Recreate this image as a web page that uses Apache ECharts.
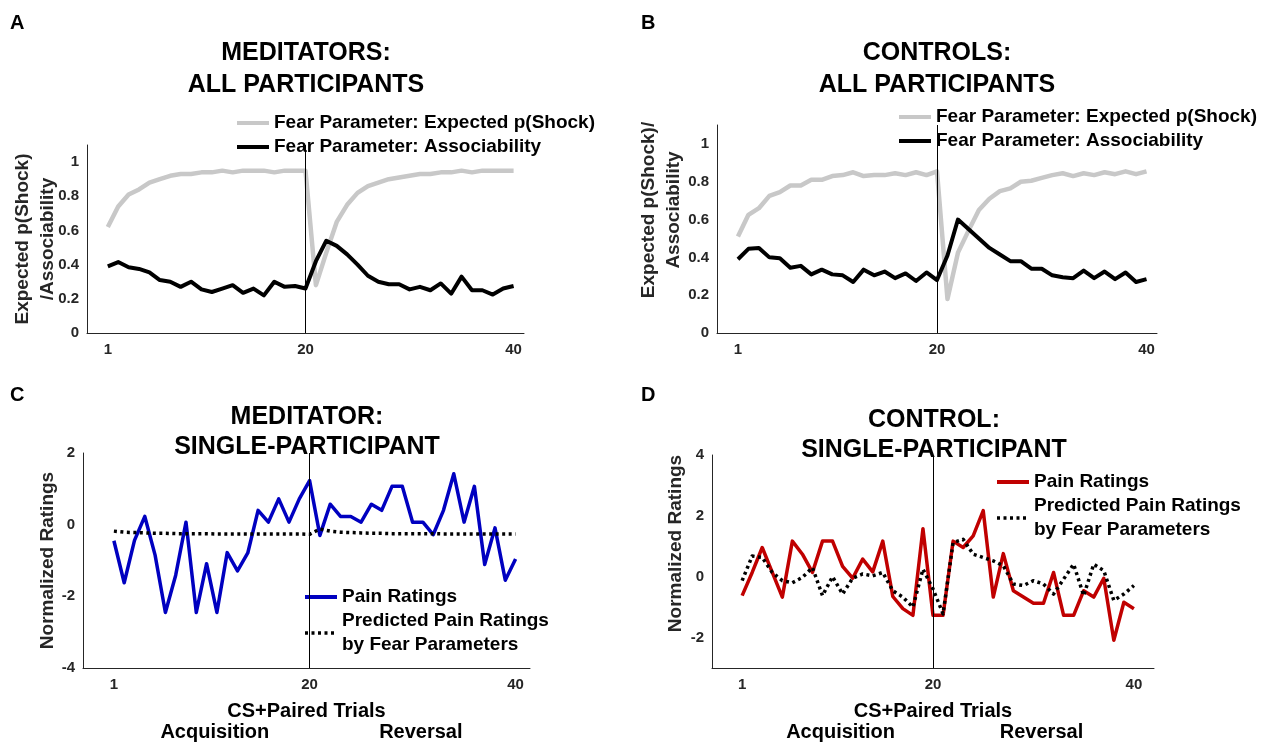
<!DOCTYPE html>
<html>
<head>
<meta charset="utf-8">
<script src="https://cdn.jsdelivr.net/npm/echarts@6/dist/echarts.min.js"></script>
<style>
html, body { margin: 0; padding: 0; background: #fff; }
#box { width: 1275px; height: 742px; }
</style>
</head>
<body>
<div id="box"></div>
<script>
// ---- data ----
const trials = [1,2,3,4,5,6,7,8,9,10,11,12,13,14,15,16,17,18,19,20,
  21,22,23,24,25,26,27,28,29,30,31,32,33,34,35,36,37,38,39,40];
const tickTrials = [1, 20, 40];
const reversalTrial = 20;
const phaseLabels = ['Acquisition', 'Reversal'];
const phaseCenters = [10.8, 30.8];
const probTicks = [0, 0.2, 0.4, 0.6, 0.8, 1];
const medRatingTicks = [-4, -2, 0, 2];
const conRatingTicks = [-2, 0, 2, 4];

// A: meditators, all participants
const medExpected = [0.62,0.74,0.81,0.84,0.88,0.90,0.92,0.93,0.93,0.94,0.94,0.95,0.94,0.95,0.95,0.95,0.94,0.95,0.95,0.95,
  0.28,0.47,0.65,0.75,0.82,0.86,0.88,0.90,0.91,0.92,0.93,0.93,0.94,0.94,0.95,0.94,0.95,0.95,0.95,0.95];
const medAssoc = [0.39,0.415,0.385,0.375,0.355,0.31,0.30,0.27,0.30,0.255,0.24,0.26,0.28,0.235,0.26,0.22,0.30,0.27,0.275,0.26,
  0.42,0.54,0.51,0.46,0.40,0.335,0.30,0.285,0.285,0.255,0.27,0.25,0.29,0.23,0.33,0.25,0.25,0.225,0.26,0.275];
// B: controls, all participants
const conExpected = [0.51,0.625,0.66,0.725,0.745,0.78,0.78,0.81,0.81,0.83,0.835,0.85,0.83,0.835,0.835,0.845,0.835,0.85,0.835,0.855,
  0.18,0.425,0.54,0.65,0.71,0.75,0.765,0.80,0.805,0.82,0.835,0.845,0.83,0.845,0.835,0.85,0.84,0.855,0.84,0.855];
const conAssoc = [0.39,0.445,0.45,0.40,0.395,0.345,0.355,0.31,0.335,0.31,0.305,0.27,0.335,0.305,0.325,0.29,0.315,0.275,0.32,0.28,
  0.41,0.60,0.55,0.50,0.45,0.415,0.38,0.38,0.34,0.34,0.305,0.295,0.29,0.33,0.29,0.325,0.285,0.32,0.27,0.285];
// C: meditator, single participant
const medPain = [-0.45,-1.62,-0.44,0.23,-0.85,-2.45,-1.41,0.07,-2.45,-1.09,-2.45,-0.78,-1.29,-0.79,0.40,0.07,0.72,0.07,0.72,1.23,
  -0.30,0.57,0.23,0.23,0.07,0.57,0.40,1.07,1.07,0.07,0.07,-0.28,0.40,1.42,0.07,1.07,-1.11,-0.09,-1.55,-0.96];
const medPred = [-0.18,-0.21,-0.22,-0.23,-0.24,-0.24,-0.25,-0.25,-0.25,-0.25,-0.26,-0.26,-0.26,-0.26,-0.26,-0.26,-0.26,-0.26,-0.26,-0.27,
  -0.12,-0.18,-0.21,-0.22,-0.23,-0.24,-0.24,-0.25,-0.25,-0.25,-0.25,-0.25,-0.26,-0.26,-0.26,-0.26,-0.26,-0.26,-0.26,-0.26];
// D: control, single participant
const conPain = [-0.62,0.14,0.96,0.14,-0.67,1.17,0.74,0.14,1.17,1.17,0.34,-0.05,0.58,0.16,1.17,-0.65,-1.05,-1.27,1.58,-1.27,
  -1.27,1.17,0.96,1.34,2.17,-0.67,0.76,-0.46,-0.67,-0.87,-0.87,0.14,-1.27,-1.27,-0.46,-0.67,-0.05,-2.09,-0.84,-1.05];
const conPred = [-0.13,0.68,0.63,0.14,-0.13,-0.20,-0.02,0.30,-0.62,0.00,-0.57,-0.05,0.09,0.03,0.14,-0.46,-0.67,-1.00,0.25,-0.40,
  -1.22,1.12,1.23,0.74,0.63,0.52,0.36,-0.24,-0.29,-0.13,-0.24,-0.57,-0.08,0.41,-0.62,0.41,0.20,-0.78,-0.57,-0.29];

const legendText = {
  A_exp: 'Fear Parameter: Expected p(Shock)',
  A_assoc: 'Fear Parameter: Associability',
  B_exp: 'Fear Parameter: Expected p(Shock)',
  B_assoc: 'Fear Parameter: Associability',
  C_pain: 'Pain Ratings',
  C_pred: 'Predicted Pain Ratings\nby Fear Parameters',
  D_pain: 'Pain Ratings',
  D_pred: 'Predicted Pain Ratings\nby Fear Parameters'
};

// ---- styling helpers ----
const FONT = '"Liberation Sans", Arial, Helvetica, sans-serif';
const AXIS_COLOR = '#262626';
const GRAY = '#c8c8c8';
const BLUE = '#0000c0';
const RED = '#c00000';
const DOTS = [3, 3.5];

function pairs(values) {
  return trials.map((t, i) => [t, values[i]]);
}

function xAxisFor(grid, min, max, withName) {
  return {
    type: 'value', gridIndex: grid, min: min, max: max, position: 'bottom',
    axisLine: { show: true, onZero: false, lineStyle: { color: AXIS_COLOR, width: 1 } },
    axisTick: { show: false },
    splitLine: { show: false },
    axisLabel: { customValues: tickTrials, margin: 9, color: AXIS_COLOR, fontSize: 15, fontWeight: 'bold', fontFamily: FONT },
    name: withName ? 'CS+Paired Trials' : '',
    nameLocation: 'middle', nameGap: 33, nameMoveOverlap: false,
    nameTextStyle: { color: '#000', fontSize: 20, fontWeight: 'bold', fontFamily: FONT }
  };
}

function phaseAxisFor(grid, min, max) {
  return {
    type: 'value', gridIndex: grid, min: min, max: max, position: 'bottom',
    axisLine: { show: false }, axisTick: { show: false }, splitLine: { show: false },
    axisLabel: {
      customValues: phaseCenters, margin: 54, color: '#000', fontSize: 20, fontWeight: 'bold', fontFamily: FONT,
      formatter: v => phaseLabels[phaseCenters.indexOf(v)]
    }
  };
}

function yAxisFor(grid, min, max, ticks, name, gap, shift) {
  return {
    type: 'value', gridIndex: grid, min: min, max: max,
    axisLine: { show: true, onZero: false, lineStyle: { color: AXIS_COLOR, width: 1 } },
    axisTick: { show: false },
    splitLine: { show: false },
    axisLabel: { customValues: ticks, margin: 8, color: AXIS_COLOR, fontSize: 15, fontWeight: 'bold', fontFamily: FONT },
    name: name, nameLocation: 'middle', nameRotate: 90, nameGap: gap, nameMoveOverlap: false,
    nameTextStyle: { color: AXIS_COLOR, fontSize: 19, fontWeight: 'bold', fontFamily: FONT, lineHeight: 25,
      padding: [0, 0, 0, shift] }
  };
}

function lineSeries(name, axisIdx, values, color, width, dash, z) {
  return {
    name: name, type: 'line', xAxisIndex: axisIdx, yAxisIndex: axisIdx,
    data: pairs(values), symbol: 'none', z: z, silent: true,
    lineStyle: { color: color, width: width, type: dash || 'solid', cap: 'butt', join: 'round' },
    itemStyle: { color: color }
  };
}

function reversalMark() {
  return {
    silent: true, symbol: 'none', animation: false,
    label: { show: false },
    lineStyle: { color: '#000', width: 1, type: 'solid' },
    data: [{ xAxis: reversalTrial }]
  };
}

function legendFor(names, left, top, dashed) {
  return {
    orient: 'vertical', left: left, top: top, selectedMode: false,
    padding: [3, 3, 3, 0], itemGap: 0, itemWidth: 32, itemHeight: 24,
    backgroundColor: '#fff',
    itemStyle: { opacity: 0 },
    lineStyle: { width: 4 },
    data: names.map(n => (dashed === n ? { name: n, lineStyle: { width: 3.5, type: DOTS } } : { name: n })),
    formatter: n => legendText[n],
    textStyle: { color: '#000', fontSize: 19, fontWeight: 'bold', fontFamily: FONT, lineHeight: 24 }
  };
}

function letterFor(text, left, top) {
  return {
    text: text, left: left, top: top, padding: 0,
    textStyle: { color: '#000', fontSize: 20, fontWeight: 'bold', fontFamily: FONT, lineHeight: 22 }
  };
}

function titleFor(text, left, top, lh) {
  return {
    text: text, left: left, top: top, textAlign: 'center', padding: 0,
    textStyle: { color: '#000', fontSize: 25, fontWeight: 'bold', fontFamily: FONT, lineHeight: lh }
  };
}

const chart = echarts.init(document.getElementById('box'), null, { renderer: 'canvas' });

const series = [];
series.push(lineSeries('A_exp', 0, medExpected, GRAY, 4.5, null, 2));
series.push(lineSeries('A_assoc', 0, medAssoc, '#000', 4, null, 3));
series[series.length - 1].markLine = reversalMark();
series.push(lineSeries('B_exp', 1, conExpected, GRAY, 4.5, null, 2));
series.push(lineSeries('B_assoc', 1, conAssoc, '#000', 4, null, 3));
series[series.length - 1].markLine = reversalMark();
series.push(lineSeries('C_pain', 2, medPain, BLUE, 3.5, null, 2));
series[series.length - 1].markLine = reversalMark();
series.push(lineSeries('C_pred', 2, medPred, '#000', 3.5, DOTS, 3));
series.push(lineSeries('D_pain', 3, conPain, RED, 3.5, null, 2));
series[series.length - 1].markLine = reversalMark();
series.push(lineSeries('D_pred', 3, conPred, '#000', 3.5, DOTS, 3));

const option = {
  animation: false,
  backgroundColor: '#fff',
  title: [
    letterFor('A', 10, 12),
    letterFor('B', 641, 12),
    letterFor('C', 10, 384),
    letterFor('D', 641, 384),
    titleFor('MEDITATORS:\nALL PARTICIPANTS', 306, 37, 32),
    titleFor('CONTROLS:\nALL PARTICIPANTS', 937, 37, 32),
    titleFor('MEDITATOR:\nSINGLE-PARTICIPANT', 307, 402, 30),
    titleFor('CONTROL:\nSINGLE-PARTICIPANT', 934, 405, 30)
  ],
  legend: [
    legendFor(['A_exp', 'A_assoc'], 235, 108),
    legendFor(['B_exp', 'B_assoc'], 897, 102),
    legendFor(['C_pain', 'C_pred'], 303, 582, 'C_pred'),
    legendFor(['D_pain', 'D_pred'], 995, 467, 'D_pred')
  ],
  grid: [
    { left: 87, top: 145, width: 437, height: 188 },
    { left: 717, top: 125, width: 440, height: 208 },
    { left: 83, top: 453, width: 447, height: 215 },
    { left: 712, top: 455, width: 442, height: 213 }
  ],
  xAxis: [
    xAxisFor(0, -1, 41, false),
    xAxisFor(1, -1, 41, false),
    xAxisFor(2, -2, 41.4, true),
    xAxisFor(3, -2, 42, true),
    phaseAxisFor(2, -2, 41.4),
    phaseAxisFor(3, -2, 42)
  ],
  yAxis: [
    yAxisFor(0, 0, 1.1, probTicks, 'Expected p(Shock)\n/Associability', 27, 0),
    yAxisFor(1, 0, 1.1, probTicks, 'Expected p(Shock)/\nAssociability', 31, 38),
    yAxisFor(2, -4, 2, medRatingTicks, 'Normalized Ratings', 23, 0),
    yAxisFor(3, -3, 4, conRatingTicks, 'Normalized Ratings', 24, 36)
  ],
  series: series
};

chart.setOption(option);
</script>
</body>
</html>
